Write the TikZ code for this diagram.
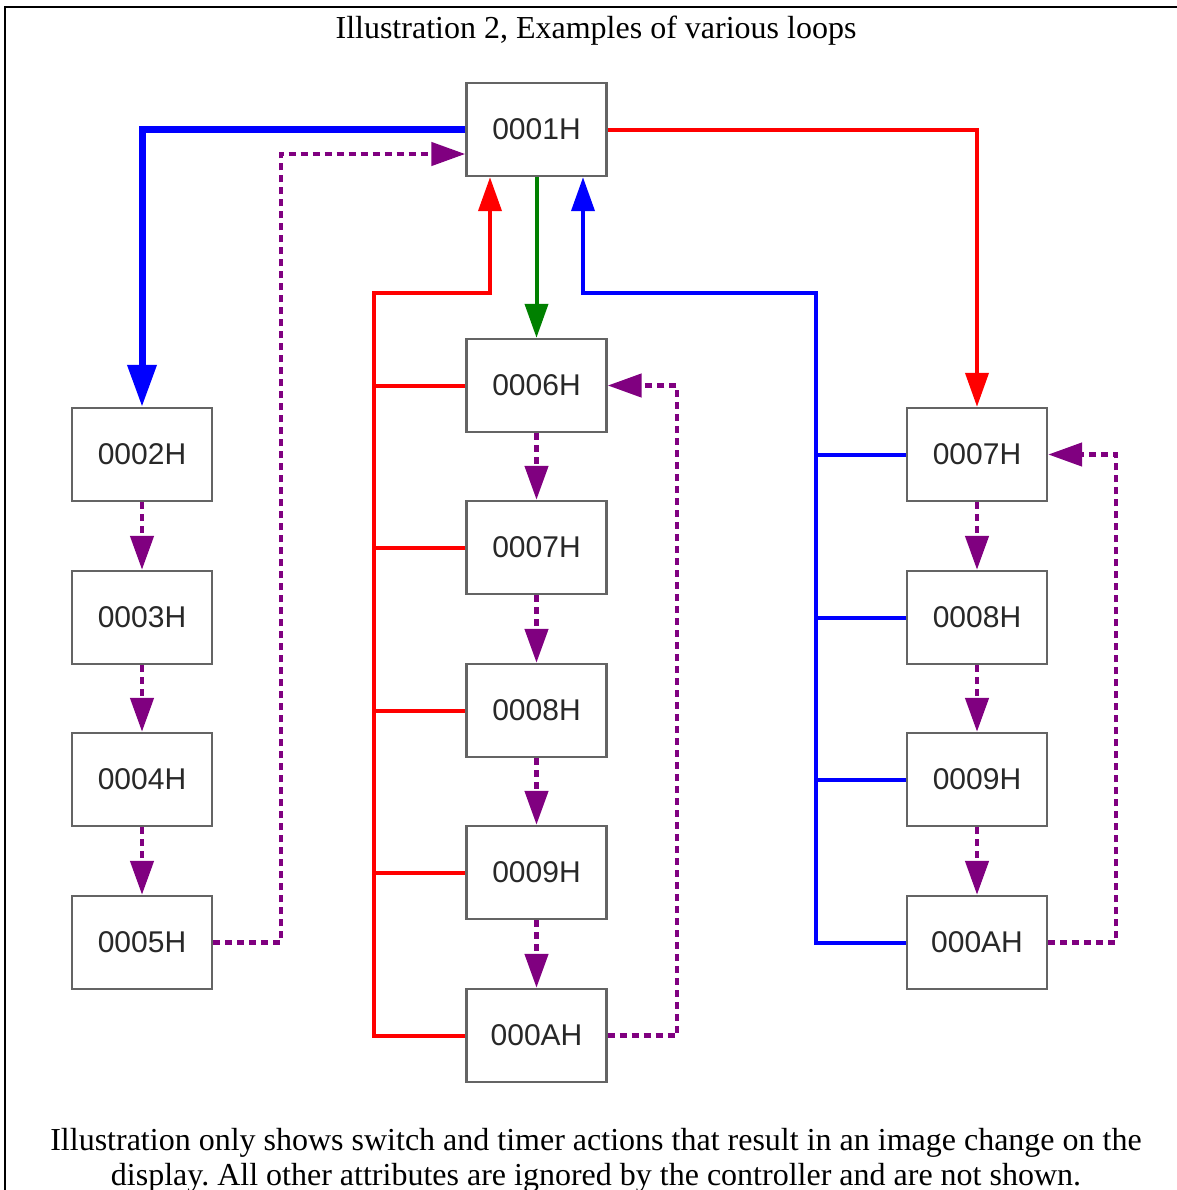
\documentclass[tikz,border=0pt]{standalone}
\usepackage{fontspec}
\setmainfont{Liberation Serif}
\setsansfont{Liberation Sans}
\usetikzlibrary{arrows.meta}
\frenchspacing
\definecolor{purp}{RGB}{128,0,128}
\definecolor{rd}{RGB}{255,0,0}
\definecolor{blu}{RGB}{0,0,255}
\definecolor{grn}{RGB}{0,128,0}
\definecolor{boxgray}{RGB}{100,100,100}
\definecolor{textgray}{RGB}{40,40,40}
\tikzset{
  boxnode/.style={draw=boxgray, line width=1.2pt, minimum width=70pt, minimum height=46.5pt,
    inner sep=0pt, fill=white, text=textgray, font=\sffamily\fontsize{15}{18}\selectfont},
  txt/.style={inner sep=0pt, anchor=base, font=\rmfamily\fontsize{16}{17.5}\selectfont},
  tipS/.style={-{Triangle[length=17pt,width=11.5pt]}},
  tipL/.style={-{Triangle[length=21pt,width=14pt]}},
  bluethick/.style={draw=blu, line width=3.5pt, tipL},
  redln/.style={draw=rd, line width=2pt},
  blueln/.style={draw=blu, line width=2pt},
  greenln/.style={draw=grn, line width=2pt},
  purpln/.style={draw=purp, line width=2.3pt, dash pattern=on 3.5pt off 2.5pt, tipS},
}
\begin{document}
\begin{tikzpicture}[x=0.5pt, y=-0.5pt]
\useasboundingbox (0,0) rectangle (1177,1190);
% frame
\draw[line width=1pt] (5,1190) -- (5,7) -- (1177,7);
% texts
\node[txt] (title) at (596,38) {Illustration 2, Examples of various loops};
\node[txt] (note1) at (596,1150) {Illustration only shows switch and timer actions that result in an image change on the};
\node[txt] (note2) at (596,1185) {display. All other attributes are ignored by the controller and are not shown.};
% boxes
\node[boxnode] (c1) at (536.5,129.5) {0001H};
\node[boxnode] (l2) at (142,454.5) {0002H};
\node[boxnode] (l3) at (142,617.5) {0003H};
\node[boxnode] (l4) at (142,779.5) {0004H};
\node[boxnode] (l5) at (142,942.5) {0005H};
\node[boxnode] (c6) at (536.5,385.5) {0006H};
\node[boxnode] (c7) at (536.5,547.5) {0007H};
\node[boxnode] (c8) at (536.5,710.5) {0008H};
\node[boxnode] (c9) at (536.5,872.5) {0009H};
\node[boxnode] (cA) at (536.5,1035.5) {000AH};
\node[boxnode] (r7) at (977,454.5) {0007H};
\node[boxnode] (r8) at (977,617.5) {0008H};
\node[boxnode] (r9) at (977,779.5) {0009H};
\node[boxnode] (rA) at (977,942.5) {000AH};
% junction coordinates
\coordinate (rt) at (374,292.5);
\coordinate (rtop) at (490,292.5);
\coordinate (bt) at (816,292.5);
\coordinate (btop) at (583,292.5);
\coordinate (p1) at (281,154);
\coordinate (p2) at (677,385.5);
\coordinate (p3) at (1116,454.5);
% main connectors
\draw[bluethick] (c1.west) -| (l2.north);
\draw[redln, tipS] (c1.east) -| (r7.north);
\draw[greenln, tipS] (c1.south) -- (c6.north);
% red tree
\draw[redln, tipS] (cA.west) -| (rt) -- (rtop) -- (rtop |- c1.south);
\draw[redln] (c6.west) -- (c6.west -| rt);
\draw[redln] (c7.west) -- (c7.west -| rt);
\draw[redln] (c8.west) -- (c8.west -| rt);
\draw[redln] (c9.west) -- (c9.west -| rt);
% blue tree
\draw[blueln, tipS] (rA.west) -| (bt) -- (btop) -- (btop |- c1.south);
\draw[blueln] (r7.west) -- (r7.west -| bt);
\draw[blueln] (r8.west) -- (r8.west -| bt);
\draw[blueln] (r9.west) -- (r9.west -| bt);
% purple chains
\draw[purpln] (l2.south) -- (l3.north);
\draw[purpln] (l3.south) -- (l4.north);
\draw[purpln] (l4.south) -- (l5.north);
\draw[purpln] (c6.south) -- (c7.north);
\draw[purpln] (c7.south) -- (c8.north);
\draw[purpln] (c8.south) -- (c9.north);
\draw[purpln] (c9.south) -- (cA.north);
\draw[purpln] (r7.south) -- (r8.north);
\draw[purpln] (r8.south) -- (r9.north);
\draw[purpln] (r9.south) -- (rA.north);
% purple loops back
\draw[purpln] (l5.east) -| (p1) -- (p1 -| c1.west);
\draw[purpln] (cA.east) -| (p2) -- (c6.east);
\draw[purpln] (rA.east) -| (p3) -- (r7.east);
\end{tikzpicture}
\end{document}
